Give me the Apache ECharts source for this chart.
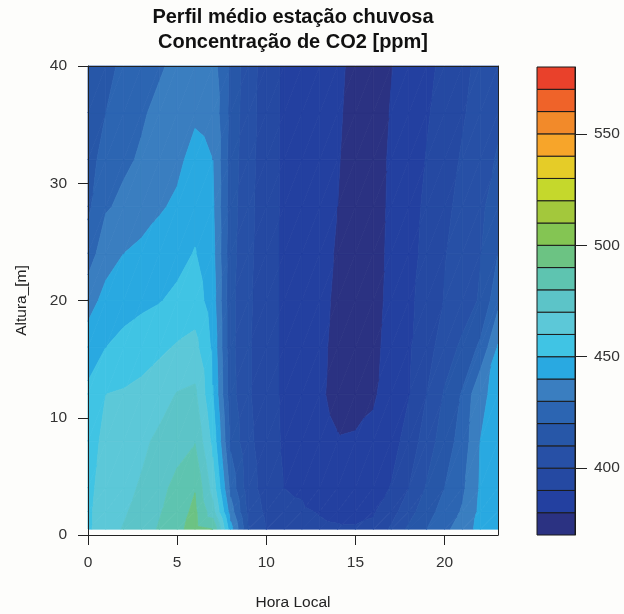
<!DOCTYPE html>
<html>
<head>
<meta charset="utf-8">
<script src="https://cdn.jsdelivr.net/npm/echarts@6/dist/echarts.min.js"></script>
<style>
  html, body { margin: 0; padding: 0; background: #fdfdfb; }
  #chart { width: 624px; height: 614px; }
</style>
</head>
<body>
<div id="chart"></div>
<script>
// hours of the day (x) and measurement heights in m (y)
const hours = [0, 1, 2, 3, 4, 5, 6, 7, 8, 9, 10, 11, 12, 13, 14, 15, 16, 17, 18, 19, 20, 21, 22, 23];
const heights = [0.5, 2, 4, 8, 12, 16, 20, 24, 28, 32, 36, 40];

// CO2 [ppm] profile for each hour, from 0.5 m (first) up to 40 m (last)
const co2 = [
  [458, 458, 457, 455, 452, 445, 436, 425, 418, 415, 413, 411],
  [467, 466, 465, 463, 460, 450, 443, 436, 429, 425, 420, 416],
  [470.5, 469, 467.5, 465, 461, 453, 446, 440, 432, 428.5, 426, 423],
  [475, 473, 471, 468, 463, 455, 448, 442, 436, 431, 429, 426],
  [481, 479, 477, 472, 466, 458, 449.5, 444, 439, 435, 432, 429],
  [488, 486, 483, 476, 470.5, 461, 452, 447, 441.5, 438, 435, 432],
  [493, 492, 489.5, 479.5, 472, 463, 455, 450.5, 447, 443, 438.5, 434],
  [490, 474, 466, 457, 450.5, 448, 445, 443, 441.5, 440, 437, 434],
  [444, 435, 427, 418, 414, 413, 413, 414, 415, 416, 417, 418],
  [411, 407, 404, 402, 401, 401, 401.5, 402, 402.5, 403, 403.5, 404],
  [400, 398, 396, 395.5, 395, 395, 395, 395, 395.5, 395.5, 396, 396],
  [393, 391.5, 390, 388.5, 388, 388, 388, 388, 388, 388, 388, 388],
  [393, 391, 389, 384, 383, 383, 383, 383, 383.5, 384, 384.5, 385],
  [391.5, 389.5, 385.5, 382.5, 381, 381.2, 381.5, 381.7, 382, 382.5, 382.8, 383],
  [391, 388, 383.5, 380.5, 378, 378.5, 379, 379.5, 380, 380.5, 381, 381.5],
  [391, 387, 383.5, 381, 376.5, 376, 376, 376, 376.5, 377, 377.5, 378],
  [392, 389, 385, 382, 379, 378.5, 378, 377.8, 377.5, 377.5, 377.5, 377.5],
  [401.5, 396, 390.5, 386, 383.5, 382, 381.5, 381.2, 381, 380.8, 380.3, 379.7],
  [412, 406, 400, 394, 389.5, 389, 388.5, 387, 386, 385, 384, 383],
  [420, 416, 411, 405, 400, 396, 393, 392.5, 392, 390.5, 389, 387.5],
  [427.5, 424, 420, 415, 411, 405, 400.5, 399.5, 398, 396, 394, 392.5],
  [435, 431, 428, 424, 421, 412, 405, 404, 402.5, 401, 399, 397.5],
  [443, 442, 441, 440, 438.5, 422, 411, 409.5, 408, 406, 404, 402.5],
  [447, 446, 445, 444, 442, 441, 427, 420, 415, 411, 408, 406]
];

// contour levels and the fill colour of each band
const levels = [370, 380, 390, 400, 410, 420, 430, 440, 450, 460, 470, 480, 490, 500, 510, 520, 530, 540, 550, 560, 570, 580];
const bandColors = [
  '#2b3282', '#2340a0', '#2549a2', '#2750a6', '#2757a8', '#2c65b2', '#3a7ec0',
  '#29a9e1', '#40c4e4', '#5cc8d8', '#5cc4c8', '#5ec4b0', '#6cc383', '#84c553',
  '#a3c83c', '#c5d82c', '#e5cc28', '#f7a52a', '#f28a2a', '#ef6329', '#e9412b'
];

const xTicks = [0, 5, 10, 15, 20];
const yTicks = [0, 10, 20, 30, 40];
const barTicks = [400, 450, 500, 550];

const font = "'Liberation Sans', Arial, sans-serif";

// one item per grid cell: corners + the four corner values
const cells = [];
for (let i = 0; i < hours.length - 1; i++) {
  for (let k = 0; k < heights.length - 1; k++) {
    cells.push([hours[i], heights[k], hours[i + 1], heights[k + 1],
      co2[i][k], co2[i + 1][k], co2[i][k + 1], co2[i + 1][k + 1]]);
  }
}

// keep the part of a polygon where sign * (v - t) >= 0 (linear in v)
function clip(pts, t, sign) {
  const res = [];
  for (let i = 0; i < pts.length; i++) {
    const a = pts[i], c = pts[(i + 1) % pts.length];
    const inA = sign * (a[2] - t) >= 0;
    const inC = sign * (c[2] - t) >= 0;
    if (inA) res.push(a);
    if (inA !== inC) {
      const s = (t - a[2]) / (c[2] - a[2]);
      res.push([a[0] + s * (c[0] - a[0]), a[1] + s * (c[1] - a[1]), t]);
    }
  }
  return res;
}

function renderCell(params, api) {
  const raw = [
    [api.value(0), api.value(1), api.value(4)],
    [api.value(2), api.value(1), api.value(5)],
    [api.value(2), api.value(3), api.value(7)],
    [api.value(0), api.value(3), api.value(6)]
  ];
  const c = raw.map(r => {
    const p = api.coord([r[0], r[1]]);
    return [p[0], p[1], r[2]];
  });
  const tris = [[c[0], c[1], c[2]], [c[0], c[2], c[3]]];
  const children = [];
  tris.forEach(tri => {
    for (let b = 0; b < bandColors.length; b++) {
      const poly = clip(clip(tri, levels[b], 1), levels[b + 1], -1);
      if (poly.length < 3) continue;
      children.push({
        type: 'polygon',
        shape: { points: poly.map(p => [p[0], p[1]]) },
        style: { fill: bandColors[b], stroke: bandColors[b], lineWidth: 0.8 }
      });
    }
  });
  return { type: 'group', children };
}

const chart = echarts.init(document.getElementById('chart'));

const option = {
  backgroundColor: '#fdfdfb',
  animation: false,
  title: {
    text: 'Perfil médio estação chuvosa\nConcentração de CO2 [ppm]',
    left: 293,
    top: 5,
    padding: 0,
    textAlign: 'center',
    textStyle: { fontFamily: font, fontSize: 20, fontWeight: 'bold', color: '#111', lineHeight: 25 }
  },
  grid: [
    { left: 88, top: 66, width: 410, height: 469, outerBoundsMode: 'none', containLabel: false },
    { left: 537, top: 67, width: 38, height: 468, outerBoundsMode: 'none', containLabel: false }
  ],
  xAxis: [
    {
      type: 'value', gridIndex: 0, min: 0, max: 23, position: 'bottom', z: 10,
      name: 'Hora Local', nameLocation: 'middle', nameGap: 60,
      nameTextStyle: { fontFamily: font, fontSize: 15.5, color: '#222' },
      axisLine: { show: true, onZero: false, lineStyle: { color: '#222', width: 1 } },
      axisTick: { show: true, customValues: xTicks, length: 10, lineStyle: { color: '#222' } },
      axisLabel: { customValues: xTicks, margin: 20, fontFamily: font, fontSize: 15.5, color: '#333' },
      splitLine: { show: false }
    },
    {
      type: 'value', gridIndex: 0, min: 0, max: 23, position: 'top', z: 10,
      axisLine: { show: true, onZero: false, lineStyle: { color: '#222', width: 1 } },
      axisTick: { show: false }, axisLabel: { show: false }, splitLine: { show: false }
    },
    {
      type: 'value', gridIndex: 1, min: 0, max: 1, show: false
    }
  ],
  yAxis: [
    {
      type: 'value', gridIndex: 0, min: 0, max: 40, position: 'left', z: 10,
      name: 'Altura_[m]', nameLocation: 'middle', nameGap: 58,
      nameTextStyle: { fontFamily: font, fontSize: 15.5, color: '#222' },
      axisLine: { show: true, onZero: false, lineStyle: { color: '#222', width: 1 } },
      axisTick: { show: true, customValues: yTicks, length: 10, lineStyle: { color: '#222' } },
      axisLabel: { customValues: yTicks, margin: 21, fontFamily: font, fontSize: 15.5, color: '#333' },
      splitLine: { show: false }
    },
    {
      type: 'value', gridIndex: 0, min: 0, max: 40, position: 'right', z: 10,
      axisLine: { show: true, onZero: false, lineStyle: { color: '#222', width: 1 } },
      axisTick: { show: false }, axisLabel: { show: false }, splitLine: { show: false }
    },
    {
      type: 'value', gridIndex: 1, min: 370, max: 580, position: 'right', z: 10,
      axisLine: { show: true, onZero: false, lineStyle: { color: '#1a1a1a', width: 1 } },
      axisTick: { show: true, inside: false, customValues: barTicks, length: 12, lineStyle: { color: '#222', width: 1 } },
      axisLabel: { customValues: barTicks, margin: 19, fontFamily: font, fontSize: 15.5, color: '#333' },
      splitLine: { show: false }
    }
  ],
  series: [
    {
      type: 'custom',
      xAxisIndex: 0,
      yAxisIndex: 0,
      silent: true,
      data: cells,
      encode: { x: [0, 2], y: [1, 3] },
      renderItem: renderCell
    },
    {
      type: 'custom',
      xAxisIndex: 2,
      yAxisIndex: 2,
      silent: true,
      data: levels.slice(0, -1).map((lo, i) => [0, lo, 1, levels[i + 1]]),
      encode: { x: [0, 2], y: [1, 3] },
      renderItem: (params, api) => {
        const a = api.coord([api.value(0), api.value(3)]);
        const b = api.coord([api.value(2), api.value(1)]);
        return {
          type: 'rect',
          shape: { x: a[0], y: a[1], width: b[0] - a[0], height: b[1] - a[1] },
          style: { fill: bandColors[params.dataIndex], stroke: '#1a1a1a', lineWidth: 1 }
        };
      }
    }
  ]
};

chart.setOption(option);
</script>
</body>
</html>
